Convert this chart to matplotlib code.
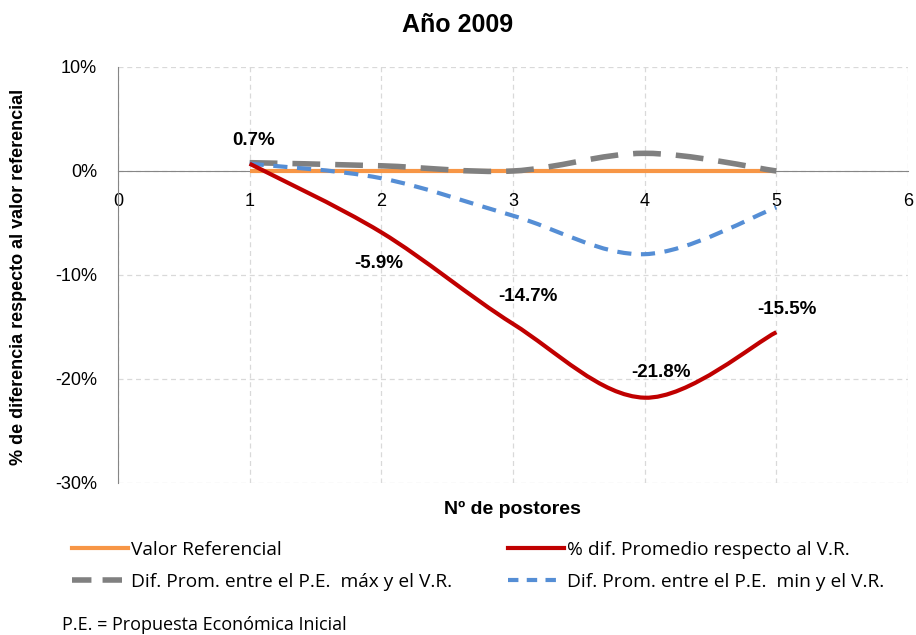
import matplotlib.pyplot as plt
from matplotlib.path import Path
from matplotlib.patches import PathPatch
from matplotlib.lines import Line2D

# datos
postores = [1, 2, 3, 4, 5]
valor_ref = [0, 0, 0, 0, 0]
dif_prom = [0.7, -5.9, -14.7, -21.8, -15.5]
dif_max = [0.8, 0.5, 0.0, 1.7, 0.0]
dif_min = [0.7, -0.7, -4.3, -8.0, -3.5]
etiquetas = ["0.7%", "-5.9%", "-14.7%", "-21.8%", "-15.5%"]

plt.rcParams['font.family'] = ['Liberation Sans', 'DejaVu Sans']
fuente_leyenda = ['Open Sans', 'DejaVu Sans']


def curva_suave(x, y):
    # linea suavizada tipo Excel (Bezier por tramos)
    verts = [(x[0], y[0])]
    codes = [Path.MOVETO]
    n = len(x)
    for i in range(n - 1):
        x0, y0 = (x[i - 1], y[i - 1]) if i > 0 else (x[i], y[i])
        x3, y3 = (x[i + 2], y[i + 2]) if i + 2 < n else (x[i + 1], y[i + 1])
        c1 = (x[i] + (x[i + 1] - x0) / 6, y[i] + (y[i + 1] - y0) / 6)
        c2 = (x[i + 1] - (x3 - x[i]) / 6, y[i + 1] - (y3 - y[i]) / 6)
        verts += [c1, c2, (x[i + 1], y[i + 1])]
        codes += [Path.CURVE4] * 3
    return Path(verts, codes)


fig = plt.figure(figsize=(9.16, 6.35), dpi=100)
ax = fig.add_axes([0.1288, 0.2394, 0.8625, 0.6551])

ax.plot(postores, valor_ref, color="#F79646", lw=3, solid_capstyle='butt', zorder=3)
estilos = [
    (dif_max, "#808080", 4, (0, (5, 2.7))),
    (dif_min, "#558ED5", 3, (0, (3.4, 2.3))),
    (dif_prom, "#C00000", 3, '-'),
]
for serie, color, lw, ls in estilos:
    ax.add_patch(PathPatch(curva_suave(postores, serie), fill=False,
                           edgecolor=color, lw=lw, linestyle=ls, zorder=4))

offsets = [(4, 23), (-3, -31), (15, 27), (16, 25), (11, 23)]
for x, y, txt, off in zip(postores, dif_prom, etiquetas, offsets):
    ax.annotate(txt, (x, y), xytext=off, textcoords='offset pixels',
                ha='center', va='center', fontsize=13.5, fontweight='bold')

ax.set_xlim(0, 6)
ax.set_ylim(-30, 10)
ax.set_xticks(range(0, 7))
ax.set_yticks(range(-30, 11, 10))
ax.set_yticklabels([f"{v}%" for v in range(-30, 11, 10)])
ax.tick_params(length=0, labelsize=13)
ax.tick_params(axis='y', pad=15)
ax.tick_params(axis='x', pad=16)
ax.grid(True, linestyle=(0, (4, 3)), color='#D9D9D9', lw=0.9)
ax.set_axisbelow(True)
for s in ['top', 'right']:
    ax.spines[s].set_visible(False)
ax.spines['bottom'].set_position(('data', 0))
ax.spines['bottom'].set_color('#868686')
ax.spines['left'].set_color('#868686')

fig.text(0.499, 0.961, "Año 2009", ha='center', va='center',
         fontsize=18, fontweight='bold')
fig.text(0.559, 0.198, "Nº de postores", ha='center', va='center',
         fontsize=14, fontweight='bold')
fig.text(0.02, 0.5638, "% de diferencia respecto al valor referencial",
         rotation=90, ha='center', va='center', fontsize=13, fontweight='bold')

col1 = [
    (Line2D([], [], color="#F79646", lw=3), "Valor Referencial"),
    (Line2D([], [], color="#808080", lw=4, ls=(0, (3.5, 2))),
     "Dif. Prom. entre el P.E.  máx y el V.R."),
]
col2 = [
    (Line2D([], [], color="#C00000", lw=3), "% dif. Promedio respecto al V.R."),
    (Line2D([], [], color="#558ED5", lw=3, ls=(0, (2.5, 2))),
     "Dif. Prom. entre el P.E.  min y el V.R."),
]
for col, x0 in [(col1, 72), (col2, 508)]:
    h, l = zip(*col)
    fig.legend(h, l, loc='center left', bbox_to_anchor=(x0 / 916, 1 - 566 / 635),
               frameon=False, handlelength=2.9, handletextpad=0.2,
               labelspacing=0.75, borderpad=0, borderaxespad=0,
               prop={'family': fuente_leyenda, 'size': 13.8})
fig.text(62 / 916, 1 - 625 / 635, "P.E. = Propuesta Económica Inicial", fontsize=13,
         family=fuente_leyenda, va='center')

fig.savefig("out.png", dpi=100)
